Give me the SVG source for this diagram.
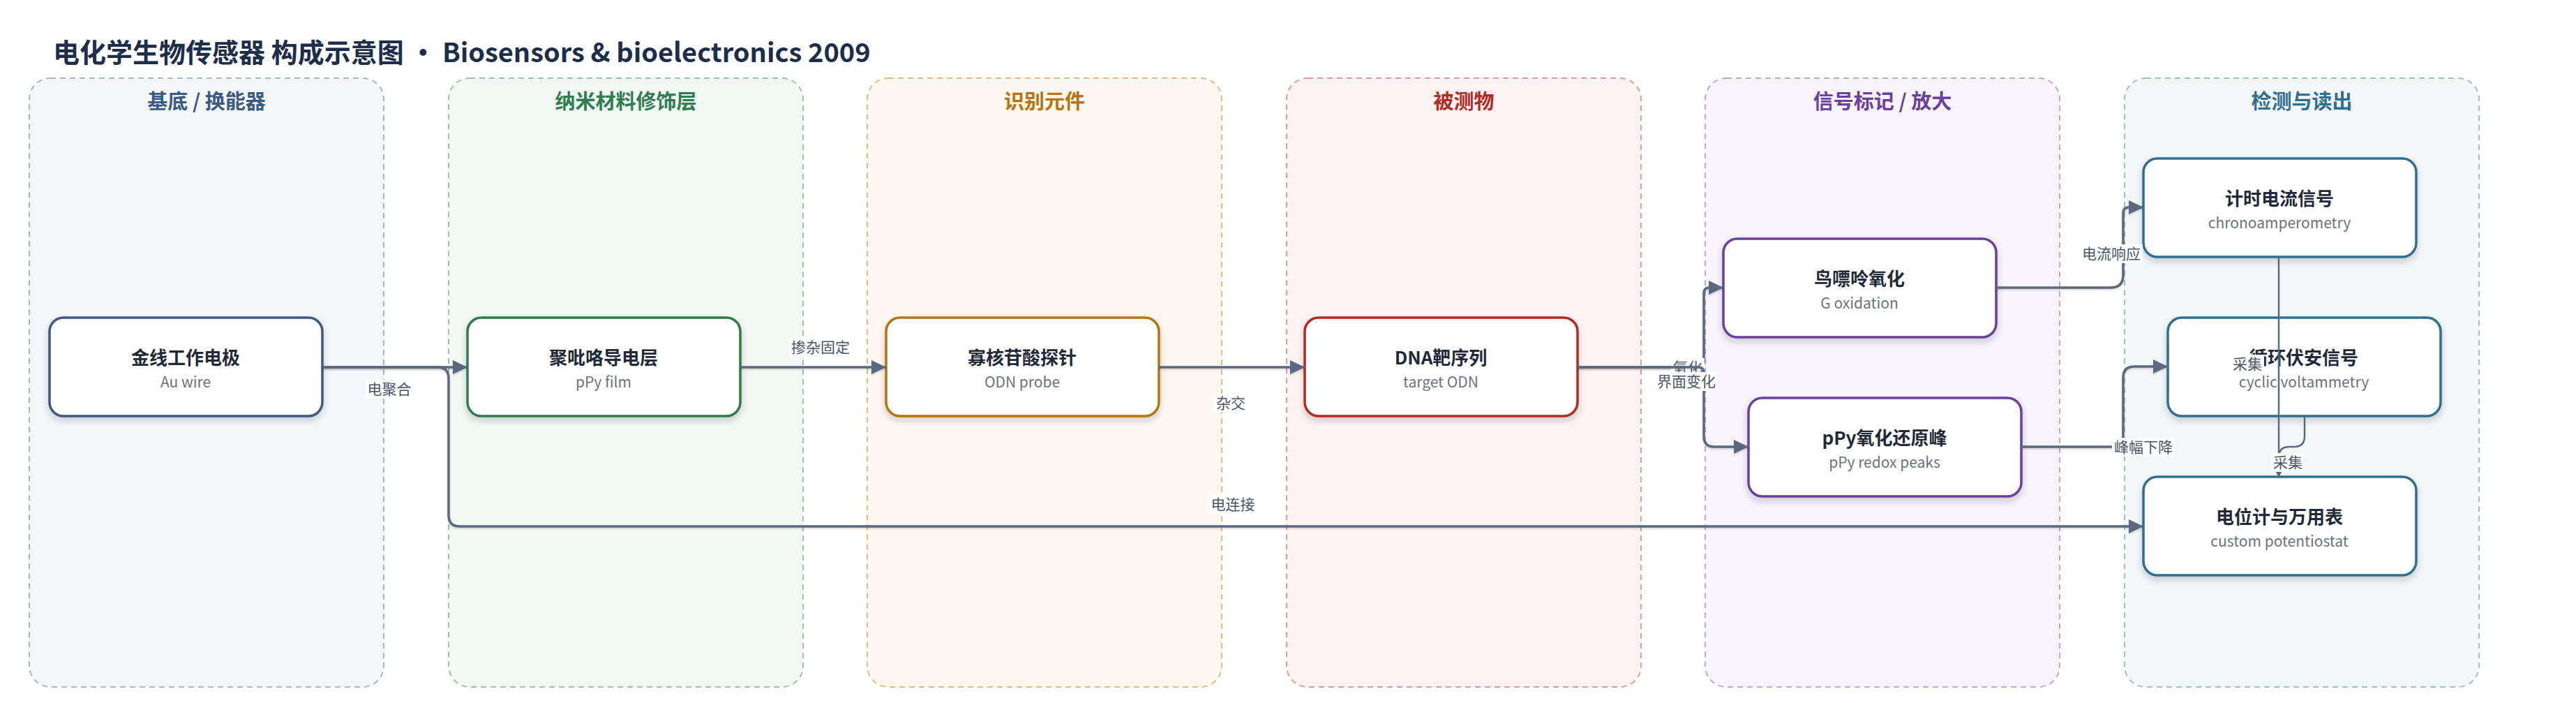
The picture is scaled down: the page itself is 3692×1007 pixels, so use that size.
<svg xmlns="http://www.w3.org/2000/svg" width="3692" height="1007" viewBox="0 0 3692 1007">
<defs>
<filter id="nshadow" x="-10%" y="-20%" width="120%" height="150%"><feDropShadow dx="0" dy="5" stdDeviation="5" flood-color="#1f2937" flood-opacity="0.2"/></filter>
<filter id="eshadow" filterUnits="userSpaceOnUse" x="0" y="0" width="3692" height="1007"><feDropShadow dx="0" dy="2" stdDeviation="1.2" flood-color="#1f2937" flood-opacity="0.18"/></filter>
<marker id="arr" markerUnits="userSpaceOnUse" markerWidth="22" markerHeight="22" refX="21" refY="10" orient="auto"><path d="M0,0 L21,10 L0,20 z" fill="#5a697e"/></marker>
<marker id="arrs" markerUnits="userSpaceOnUse" markerWidth="10" markerHeight="10" refX="8" refY="4.5" orient="auto"><path d="M0,0 L8,4.5 L0,9 z" fill="#5a697e"/></marker>
</defs>
<style>
text{font-family:"Noto Sans CJK SC","Noto Sans",sans-serif}
.title{font-size:38px;font-weight:700;fill:#1c2e4a}
.lane{stroke-width:2;stroke-dasharray:8 6}
.lt{font-size:29px;font-weight:700;text-anchor:middle}
.node rect{fill:#fff;stroke-width:3.5;filter:url(#nshadow)}
.nt{font-size:26px;font-weight:700;fill:#1f2937;text-anchor:middle}
.ns{font-size:21px;fill:#6b7280;text-anchor:middle}
.e{fill:none;stroke:#5a697e;stroke-width:3.5;marker-end:url(#arr);filter:url(#eshadow)}
.es{fill:none;stroke:#5a697e;stroke-width:2.5;marker-end:url(#arrs)}
.lb{fill:#fff}
.el{font-size:21px;fill:#4a5568;text-anchor:middle}
</style>
<rect width="3692" height="1007" fill="#fff"/>
<text class="title" x="76" y="89">电化学生物传感器 构成示意图 • Biosensors &amp; bioelectronics 2009</text>

<g id="lanes">
<g id="lane-substrate"><rect class="lane" x="42" y="112" width="508" height="872" rx="30" fill="#f5f6fa" stroke="#a9b5c8"/><text class="lt" x="296" y="156" fill="#3b5a82">基底 / 换能器</text></g>
<g id="lane-nano"><rect class="lane" x="643" y="112" width="508" height="872" rx="30" fill="#f2f8f4" stroke="#9cc5a8"/><text class="lt" x="897" y="156" fill="#2e7d4f">纳米材料修饰层</text></g>
<g id="lane-recog"><rect class="lane" x="1243" y="112" width="508" height="872" rx="30" fill="#fdf8f1" stroke="#e2bb7e"/><text class="lt" x="1497" y="156" fill="#b8730c">识别元件</text></g>
<g id="lane-analyte"><rect class="lane" x="1844" y="112" width="508" height="872" rx="30" fill="#fdf3f2" stroke="#e19b96"/><text class="lt" x="2098" y="156" fill="#b42a22">被测物</text></g>
<g id="lane-signal"><rect class="lane" x="2444" y="112" width="508" height="872" rx="30" fill="#f7f4fb" stroke="#bea8db"/><text class="lt" x="2698" y="156" fill="#6a3fa0">信号标记 / 放大</text></g>
<g id="lane-detect"><rect class="lane" x="3045" y="112" width="508" height="872" rx="30" fill="#f3f7f8" stroke="#9ec0cd"/><text class="lt" x="3299" y="156" fill="#2f6f8f">检测与读出</text></g>
</g>

<g id="n-au" class="node"><rect x="71" y="455" width="391" height="141" rx="20" stroke="#3d5a80"/><text class="nt" x="266" y="522">金线工作电极</text><text class="ns" x="266" y="555">Au wire</text></g>
<g id="n-ppy" class="node"><rect x="670" y="455" width="391" height="141" rx="20" stroke="#2e7d4a"/><text class="nt" x="865" y="522">聚吡咯导电层</text><text class="ns" x="865" y="555">pPy film</text></g>
<g id="n-probe" class="node"><rect x="1270" y="455" width="391" height="141" rx="20" stroke="#b8730c"/><text class="nt" x="1465" y="522">寡核苷酸探针</text><text class="ns" x="1465" y="555">ODN probe</text></g>
<g id="n-target" class="node"><rect x="1870" y="455" width="391" height="141" rx="20" stroke="#b42a22"/><text class="nt" x="2065" y="522">DNA靶序列</text><text class="ns" x="2065" y="555">target ODN</text></g>
<g id="n-gox" class="node"><rect x="2470" y="342" width="391" height="141" rx="20" stroke="#6a3fa0"/><text class="nt" x="2665" y="409">鸟嘌呤氧化</text><text class="ns" x="2665" y="442">G oxidation</text></g>
<g id="n-redox" class="node"><rect x="2506" y="570" width="391" height="141" rx="20" stroke="#6a3fa0"/><text class="nt" x="2701" y="637">pPy氧化还原峰</text><text class="ns" x="2701" y="670">pPy redox peaks</text></g>
<g id="n-ca" class="node"><rect x="3072" y="227" width="391" height="141" rx="20" stroke="#2f6f8f"/><text class="nt" x="3267" y="294">计时电流信号</text><text class="ns" x="3267" y="327">chronoamperometry</text></g>
<g id="n-cv" class="node"><rect x="3107" y="455" width="391" height="141" rx="20" stroke="#2f6f8f"/><text class="nt" x="3302" y="522">循环伏安信号</text><text class="ns" x="3302" y="555">cyclic voltammetry</text></g>
<g id="n-pot" class="node"><rect x="3072" y="683" width="391" height="141" rx="20" stroke="#2f6f8f"/><text class="nt" x="3267" y="750">电位计与万用表</text><text class="ns" x="3267" y="783">custom potentiostat</text></g>

<g id="connectors">
<path class="e" d="M462,526 H670"/>
<rect class="lb" x="524" y="544" width="68" height="27"/><text class="el" x="558" y="565">电聚合</text>
<path class="e" d="M462,526 H627 Q643,526 643,542 V738 Q643,754 659,754 H3072"/>
<rect class="lb" x="1733" y="709" width="68" height="27"/><text class="el" x="1767" y="730">电连接</text>
<path class="e" d="M1061,526 H1270"/>
<rect class="lb" x="1131" y="484" width="90" height="27"/><text class="el" x="1176" y="505">掺杂固定</text>
<path class="e" d="M1661,526 H1870"/>
<rect class="lb" x="1740" y="564" width="48" height="27"/><text class="el" x="1764" y="585">杂交</text>
<path class="e" d="M2261,526 H2434 Q2442,526 2442,518 V420 Q2442,412 2450,412 H2470"/>
<rect class="lb" x="2395" y="513" width="48" height="27"/><text class="el" x="2419" y="534">氧化</text>
<path class="e" d="M2261,526 H2434 Q2442,526 2442,534 V625 Q2442,640 2457,640 H2506"/>
<rect class="lb" x="2372" y="533" width="90" height="27"/><text class="el" x="2417" y="554">界面变化</text>
<path class="e" d="M2861,412 H3025 Q3043,412 3043,394 V305 Q3043,297 3051,297 H3072"/>
<rect class="lb" x="2981" y="350" width="90" height="27"/><text class="el" x="3026" y="371">电流响应</text>
<path class="e" d="M2897,640 H3027 Q3043,640 3043,624 V541 Q3043,525 3059,525 H3107"/>
<rect class="lb" x="3027" y="627" width="90" height="27"/><text class="el" x="3072" y="648">峰幅下降</text>
<path class="es" d="M3266,368 V683"/>
<rect class="lb" x="3197" y="508" width="48" height="27"/><text class="el" x="3221" y="529">采集</text>
<path class="es" d="M3303,596 V625 Q3303,640 3288,640 H3281 Q3266,640 3266,655 V683"/>
<rect class="lb" x="3255" y="649" width="48" height="27"/><text class="el" x="3279" y="670">采集</text>
</g>
</svg>
